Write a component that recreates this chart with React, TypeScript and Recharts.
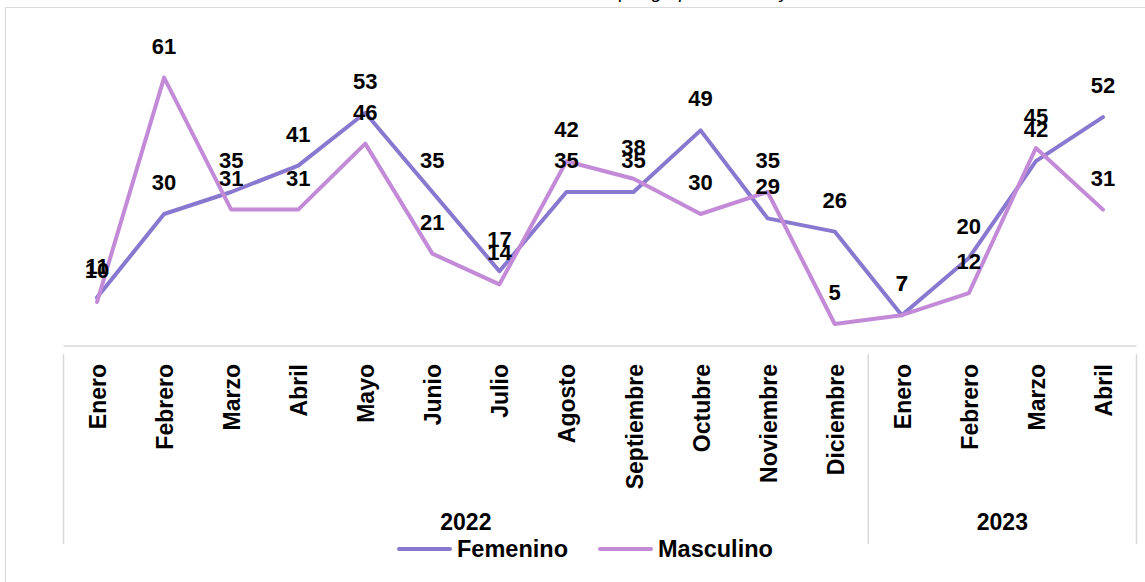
import { LineChart, Line, XAxis, YAxis, LabelList, Legend } from "recharts";

const months = [
  "Enero", "Febrero", "Marzo", "Abril", "Mayo", "Junio", "Julio", "Agosto",
  "Septiembre", "Octubre", "Noviembre", "Diciembre", "Enero", "Febrero", "Marzo", "Abril",
];
const years = [
  "2022", "2022", "2022", "2022", "2022", "2022", "2022", "2022",
  "2022", "2022", "2022", "2022", "2023", "2023", "2023", "2023",
];
const femenino = [11, 30, 35, 41, 53, 35, 17, 35, 35, 49, 29, 26, 7, 20, 42, 52];
const masculino = [10, 61, 31, 31, 46, 21, 14, 42, 38, 30, 35, 5, 7, 12, 45, 31];

const data = months.map((m, i) => ({
  month: m,
  year: years[i],
  Femenino: femenino[i],
  Masculino: masculino[i],
}));

const W = 1145;
const H = 582;
const LEFT = 63.5;
const RIGHT = 8.5;
const PLOT_W = W - LEFT - RIGHT;
const BAND = PLOT_W / months.length;
const AXIS_H = 190;
const FONT = "'Liberation Sans', Arial, sans-serif";
const GRID = "#d9d9d9";
const FEM = "#8878d0";
const MAS = "#c38ad8";

function MonthTick(props: any) {
  const { x, y, payload } = props;
  const i = payload.index;
  const left = x - BAND / 2;
  const right = x + BAND / 2;
  const items: any[] = [];
  items.push(
    <text
      key="t"
      x={0}
      y={0}
      transform={`translate(${x + 1},${y + 10}) rotate(-90)`}
      textAnchor="end"
      dominantBaseline="central"
      fontFamily={FONT}
      fontWeight="bold"
      fontSize={23}
      fill="#000"
    >
      {payload.value}
    </text>
  );
  const yr = years[i];
  if (i === 0 || years[i - 1] !== yr) {
    items.push(<line key="l" x1={left} x2={left} y1={y} y2={y + AXIS_H} stroke={GRID} strokeWidth={1.5} />);
    const count = years.filter((v) => v === yr).length;
    const cx = left + (count * BAND) / 2;
    items.push(
      <text
        key="y"
        x={cx}
        y={y + 176}
        textAnchor="middle"
        fontFamily={FONT}
        fontWeight="bold"
        fontSize={23}
        fill="#000"
      >
        {yr}
      </text>
    );
  }
  if (i === months.length - 1) {
    items.push(<line key="r" x1={right} x2={right} y1={y} y2={y + AXIS_H} stroke={GRID} strokeWidth={1.5} />);
  }
  return <g>{items}</g>;
}

function LegendContent() {
  const item = (name: string, color: string) => (
    <div style={{ display: "flex", alignItems: "center", marginRight: 30 }}>
      <div style={{ width: 55, height: 4, background: color, borderRadius: 2, marginRight: 5 }} />
      <span style={{ fontFamily: FONT, fontWeight: "bold", fontSize: 23.5, color: "#000", lineHeight: "26px" }}>
        {name}
      </span>
    </div>
  );
  return (
    <div style={{ display: "flex" }}>
      {item("Femenino", FEM)}
      {item("Masculino", MAS)}
    </div>
  );
}

export default function App() {
  return (
    <div style={{ position: "absolute", left: 0, top: 0, width: W, height: H, overflow: "hidden", background: "#fff" }}>
      <div
        style={{
          position: "absolute",
          left: 5,
          top: 7,
          width: 1300,
          height: 700,
          border: `1.5px solid ${GRID}`,
        }}
      />
      <div
        style={{
          position: "absolute",
          left: 560,
          top: -18,
          fontFamily: FONT,
          fontStyle: "italic",
          fontSize: 19,
          lineHeight: "19px",
          whiteSpace: "nowrap",
        }}
      >
        Casos por grupo de edad y sexo
      </div>
      <div style={{ position: "absolute", left: 0, top: 0 }}>
        <LineChart
          width={W}
          height={H}
          data={data}
          margin={{ top: 38, right: RIGHT, left: LEFT, bottom: H - 346 - AXIS_H }}
        >
          <XAxis
            dataKey="month"
            interval={0}
            padding={{ left: BAND / 2, right: BAND / 2 }}
            height={AXIS_H}
            axisLine={{ stroke: GRID, strokeWidth: 1.5 }}
            tickLine={false}
            tick={<MonthTick />}
          />
          <YAxis hide domain={[0, 70]} width={0} />
          <Legend
            verticalAlign="middle"
            layout="horizontal"
            content={<LegendContent />}
            wrapperStyle={{ position: "absolute", left: 397, top: 536, width: 440 }}
          />
          <Line
            dataKey="Femenino"
            stroke={FEM}
            strokeWidth={4}
            dot={false}
            isAnimationActive={false}
            strokeLinejoin="round"
            strokeLinecap="round"
          >
            <LabelList
              dataKey="Femenino"
              position="top"
              offset={24}
              fontFamily={FONT}
              fontWeight="bold"
              fontSize={22}
              fill="#000"
            />
          </Line>
          <Line
            dataKey="Masculino"
            stroke={MAS}
            strokeWidth={4}
            dot={false}
            isAnimationActive={false}
            strokeLinejoin="round"
            strokeLinecap="round"
          >
            <LabelList
              dataKey="Masculino"
              position="top"
              offset={24}
              fontFamily={FONT}
              fontWeight="bold"
              fontSize={22}
              fill="#000"
            />
          </Line>
        </LineChart>
      </div>
    </div>
  );
}
